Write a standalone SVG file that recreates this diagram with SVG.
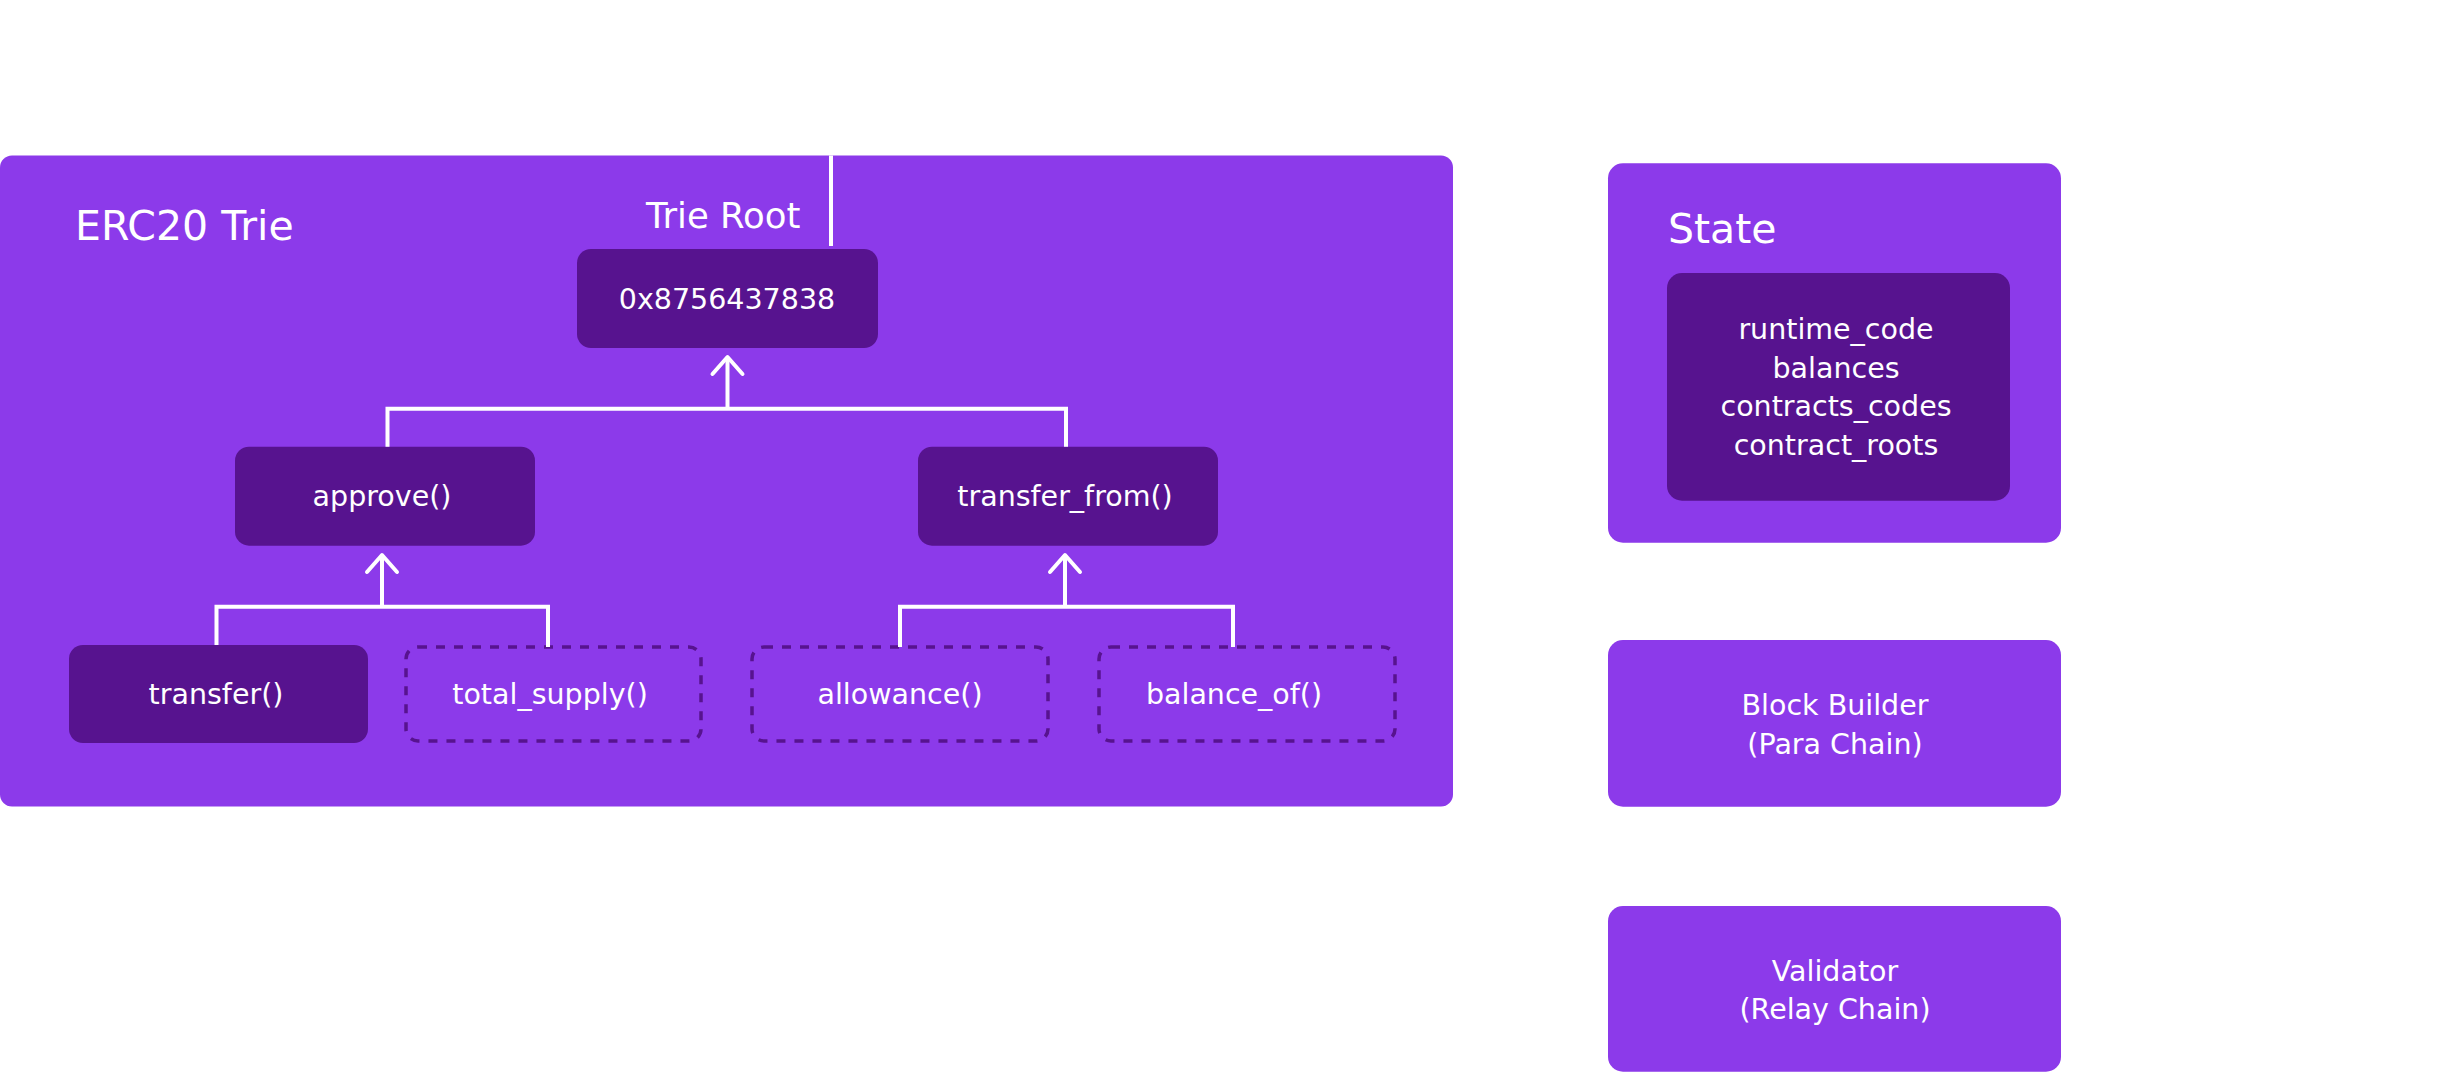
<svg xmlns="http://www.w3.org/2000/svg" width="2437" height="1073" viewBox="0 0 2437 1073">
  <style>
    .panel { fill: #8C3AEA; }
    .dark { fill: #57138F; }
    .dash { fill: none; stroke: #57138F; stroke-width: 3.5; stroke-dasharray: 9 9; }
    .t { font-family: "DejaVu Sans", "Liberation Sans", sans-serif; fill: #FFFFFF; }
    .head { font-size: 41px; }
    .lbl { font-size: 28.5px; text-anchor: middle; }
    .conn { fill: none; stroke: #FFFFFF; stroke-width: 4; stroke-linejoin: miter; }
  </style>
  <defs>
    <marker id="arrow" viewBox="-20 -20 40 40" refX="0" refY="0" markerWidth="40" markerHeight="40" markerUnits="userSpaceOnUse" orient="auto">
      <path d="M -17 -15 L 0 0 L -17 15" fill="none" stroke="#FFFFFF" stroke-width="4" stroke-linecap="round" stroke-linejoin="round"/>
    </marker>
  </defs>
  <rect width="2437" height="1073" fill="#FFFFFF"/>

  <g id="erc20-trie">
    <rect class="panel" x="0" y="155.5" width="1453" height="651" rx="12"/>
    <text class="t head" x="75" y="240">ERC20 Trie</text>
    <text class="t" x="646" y="228" font-size="35.5">Trie Root</text>
  </g>

  <g id="root-node">
    <rect class="dark" x="577" y="249" width="301" height="99" rx="14"/>
    <text class="t lbl" x="727" y="308.5">0x8756437838</text>
  </g>
  <g id="approve-node">
    <rect class="dark" x="235" y="446.7" width="300" height="99" rx="14"/>
    <text class="t lbl" x="382" y="506">approve()</text>
  </g>
  <g id="transfer-from-node">
    <rect class="dark" x="918" y="446.7" width="300" height="99" rx="14"/>
    <text class="t lbl" x="1065" y="506">transfer_from()</text>
  </g>
  <g id="transfer-node">
    <rect class="dark" x="69" y="645" width="299" height="98" rx="14"/>
    <text class="t lbl" x="216" y="704">transfer()</text>
  </g>
  <g id="total-supply-node">
    <rect class="dash" x="406" y="647" width="295" height="94" rx="12"/>
    <text class="t lbl" x="550" y="704">total_supply()</text>
  </g>
  <g id="allowance-node">
    <rect class="dash" x="752" y="647" width="296" height="94" rx="12"/>
    <text class="t lbl" x="900" y="704">allowance()</text>
  </g>
  <g id="balance-of-node">
    <rect class="dash" x="1099" y="647" width="296" height="94" rx="12"/>
    <text class="t lbl" x="1234" y="704">balance_of()</text>
  </g>

  <g id="connectors">
    <path class="conn" d="M 831 155.5 L 831 246"/>
    <path class="conn" d="M 387.5 446.7 L 387.5 408.7 L 1066 408.7 L 1066 446.7"/>
    <path class="conn" d="M 727.5 408.7 L 727.5 357" marker-end="url(#arrow)"/>
    <path class="conn" d="M 216.5 645 L 216.5 606.7 L 548 606.7 L 548 647"/>
    <path class="conn" d="M 382 606.7 L 382 555" marker-end="url(#arrow)"/>
    <path class="conn" d="M 900 647 L 900 606.7 L 1233 606.7 L 1233 647"/>
    <path class="conn" d="M 1065 606.7 L 1065 555" marker-end="url(#arrow)"/>
  </g>

  <g id="state">
    <rect class="panel" x="1608" y="163.3" width="453" height="379.4" rx="15"/>
    <text class="t head" x="1668" y="243">State</text>
    <rect class="dark" x="1667" y="273" width="343" height="227.7" rx="15"/>
    <text class="t lbl" font-size="30" x="1836" y="339">runtime_code</text>
    <text class="t lbl" font-size="30" x="1836" y="377.5">balances</text>
    <text class="t lbl" font-size="30" x="1836" y="416">contracts_codes</text>
    <text class="t lbl" font-size="30" x="1836" y="455">contract_roots</text>
  </g>

  <g id="block-builder">
    <rect class="panel" x="1608" y="640" width="453" height="166.7" rx="15"/>
    <text class="t lbl" font-size="29.5" x="1835" y="715">Block Builder</text>
    <text class="t lbl" font-size="29.5" x="1835" y="754">(Para Chain)</text>
  </g>

  <g id="validator">
    <rect class="panel" x="1608" y="906" width="453" height="165.7" rx="15"/>
    <text class="t lbl" font-size="29.5" x="1835" y="981">Validator</text>
    <text class="t lbl" font-size="29.5" x="1835" y="1019">(Relay Chain)</text>
  </g>
</svg>
